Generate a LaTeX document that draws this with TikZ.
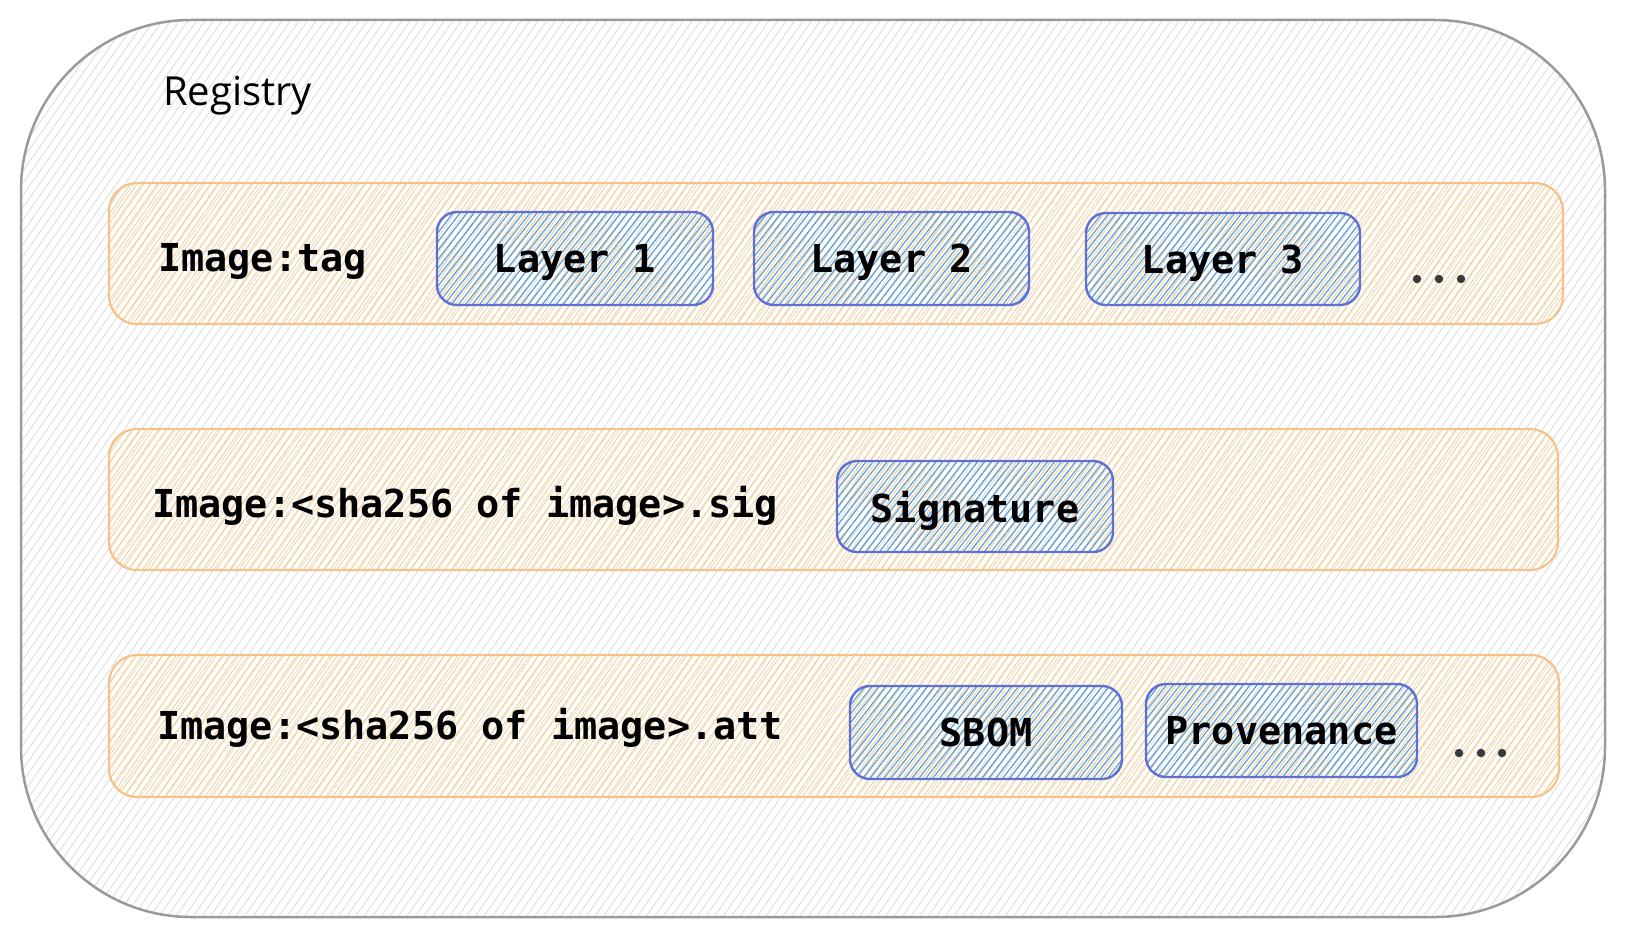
\documentclass[tikz,border=0pt]{standalone}
\usepackage{fontspec}
\setmonofont{DejaVu Sans Mono}
\newfontfamily\handfont{Open Sans}
\usetikzlibrary{patterns.meta}
\definecolor{outerline}{HTML}{9A9A9A}
\definecolor{outerhatch}{HTML}{D6DBE0}
\definecolor{rowline}{HTML}{F6C18B}
\definecolor{rowhatch}{HTML}{FFCF85}
\definecolor{boxline}{HTML}{5E6FD6}
\definecolor{boxhatch}{HTML}{4A9EEC}
\definecolor{dotcol}{HTML}{3A3A3A}
\tikzset{
  outerbox/.style={draw=outerline, line width=2.5pt, rounded corners=170pt,
    pattern={Lines[angle=55,distance=7pt,line width=0.8pt]}, pattern color=outerhatch,
    minimum width=1584pt, minimum height=897pt, inner sep=0},
  rowbox/.style={draw=rowline, line width=2.2pt, rounded corners=28pt,
    pattern={Lines[angle=55,distance=5.5pt,line width=0.9pt]}, pattern color=rowhatch,
    minimum height=141pt, inner sep=0},
  blk/.style={draw=boxline, line width=2.4pt, rounded corners=20pt,
    pattern={Lines[angle=52,distance=5.5pt,line width=1.1pt]}, pattern color=boxhatch,
    minimum width=274pt, minimum height=92pt, inner sep=0, text depth=0pt,
    font=\ttfamily\bfseries\fontsize{38.5}{40}\selectfont, text=black},
  lbl/.style={font=\ttfamily\bfseries\fontsize{38.5}{40}\selectfont, text=black, inner sep=0, anchor=base west},
  dotn/.style={circle, fill=dotcol, minimum size=8.5pt, inner sep=0}
}
\begin{document}
\begin{tikzpicture}[x=1pt,y=-1pt]
\useasboundingbox (0,0) rectangle (1628,936);
\node[outerbox] (registry) at (813,468.5) {};
\node[font=\handfont\fontsize{40}{42}\selectfont, inner sep=0, anchor=base west] (regtitle) at (163,106) {Registry};

\node[rowbox, minimum width=1454pt] (row1) at (836,253.5) {};
\node[rowbox, minimum width=1449pt] (row2) at (833.5,499.5) {};
\node[rowbox, minimum width=1450pt, minimum height=142pt] (row3) at (834,726) {};

\node[lbl] (t1) at (158,272) {Image:tag};
\node[lbl] (t2) at (152,517) {Image:<sha256 of image>.sig};
\node[lbl] (t3) at (157,739) {Image:<sha256 of image>.att};

\node[blk, minimum width=276pt, minimum height=93pt] (l1) at (575,258.5) {Layer 1};
\node[blk, minimum width=275pt, minimum height=93pt] (l2) at (891.5,258.5) {Layer 2};
\node[blk] (l3) at (1223,259) {Layer 3};
\node[blk, minimum width=276pt, minimum height=91pt] (sig) at (975,506.5) {Signature};
\node[blk, minimum width=272pt, minimum height=93pt] (sbom) at (986,732.5) {SBOM};
\node[blk, minimum width=271pt, minimum height=93pt] (prov) at (1281.5,730.5) {Provenance};

\node[dotn] (d1a) at (1417,279) {};
\node[dotn] (d1b) at (1439,279) {};
\node[dotn] (d1c) at (1461,279) {};
\node[dotn] (d3a) at (1459,753) {};
\node[dotn] (d3b) at (1481,753) {};
\node[dotn] (d3c) at (1502,753) {};
\end{tikzpicture}
\end{document}
